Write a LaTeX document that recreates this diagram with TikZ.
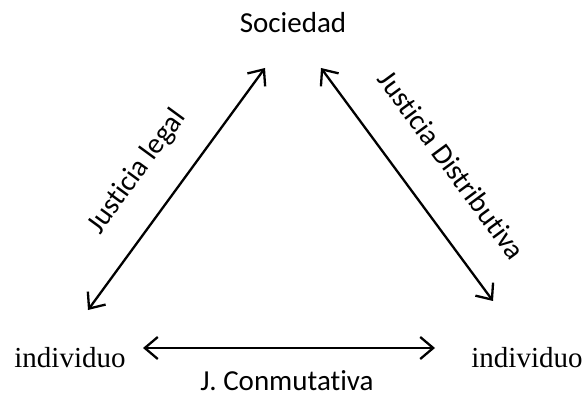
\documentclass[tikz,border=0pt]{standalone}
\usepackage{fontspec}
\setmainfont{Liberation Serif}
\newfontfamily\calib[Ligatures=NoCommon]{Carlito}
\usetikzlibrary{arrows.meta}
\tikzset{
  lab/.style={font=\calib\fontsize{29}{34}\selectfont, inner sep=0pt},
  ind/.style={font=\fontsize{29}{34}\selectfont, inner sep=0pt},
  link/.style={line width=2.3pt, {Straight Barb[length=13pt,width=22pt,line width=2.3pt]}-{Straight Barb[length=13pt,width=22pt,line width=2.3pt]}}
}
\begin{document}
\begin{tikzpicture}[x=1pt,y=-1pt]
\useasboundingbox (0,0) rectangle (584,398);
\node[lab, anchor=base] (soc) at (293,33) {Sociedad};
\node[ind, anchor=base] (indL) at (70,367) {individuo};
\node[ind, anchor=base] (indR) at (527,367) {individuo};
\coordinate (lA) at (88,310);
\coordinate (lB) at (265,68);
\coordinate (rA) at (321,68);
\coordinate (rB) at (493,301);
\coordinate (bA) at (143,348);
\coordinate (bB) at (435,348);
\draw[link] (lA) -- (lB);
\draw[link] (rA) -- (rB);
\draw[link] (bA) -- (bB);
\node[lab, rotate=53.8] (jl) at (137,172) {Justicia legal};
\node[lab, rotate=-53.6] (jd) at (452,165) {Justicia Distributiva};
\node[lab, anchor=base] (jc) at (287,390) {J. Conmutativa};
\end{tikzpicture}
\end{document}
